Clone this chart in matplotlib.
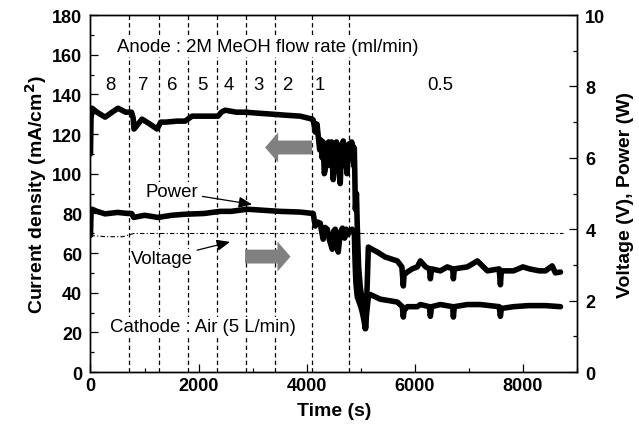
import numpy as np
import matplotlib
matplotlib.use('Agg')
import matplotlib.pyplot as plt
from matplotlib.patches import FancyArrowPatch
from matplotlib.ticker import MultipleLocator

plt.rcParams['font.family'] = ['Liberation Sans', 'DejaVu Sans']

# ---- data ----
# current density (mA/cm2), left axis
cur_t = [0, 10, 30, 120, 270, 400, 510, 650, 760, 790, 805, 850, 953, 1100, 1231, 1300,
         1400, 1600, 1750, 1880, 2100, 2361, 2420, 2491, 2700, 2861, 3100, 3361, 3600,
         3880, 4102, 4120, 4140, 4157, 4190, 4213, 4240, 4260, 4285, 4305, 4325, 4343,
         4365, 4380, 4405, 4435, 4460, 4490, 4510, 4530, 4550, 4565, 4590, 4620, 4645,
         4676, 4700, 4720, 4745, 4780, 4800, 4830, 4850, 4870, 4880, 4890, 4900, 4920,
         4935, 4960, 4990, 5030, 5060, 5090, 5120, 5140, 5200, 5306, 5450, 5676, 5760,
         5787, 5800, 5861, 5950, 6046, 6102, 6200, 6270, 6287, 6310, 6472, 6600, 6700,
         6713, 6730, 6972, 7157, 7342, 7560, 7583, 7600, 7824, 8000, 8120, 8300, 8416,
         8540, 8600, 8694]
cur_v = [110, 128, 133, 131, 128.5, 131, 133, 131, 131, 128, 122.5, 124, 127.5, 125, 122.5, 126,
         126, 126.5, 126.5, 129, 129, 129, 131, 132, 131, 131, 130.5, 130, 129.5,
         129, 127.5, 127, 124, 121, 125, 119, 112, 117, 108, 116, 100, 102,
         114, 110, 116, 104, 116, 97, 112, 106, 116, 112, 102, 95, 114,
         116.5, 104, 113, 100, 115, 108, 116, 114, 104, 113, 99, 82, 90,
         73.6, 53, 43, 35, 28, 22, 45, 63, 62, 60.5, 58, 56, 53,
         43.4, 49, 50.4, 52, 53, 56, 53, 52, 47, 52, 51, 53, 52,
         47, 52, 53, 56, 51, 52, 44, 51, 51, 53, 52, 51, 51,
         53.5, 50, 50.4]

# power (W), right axis
pow_t = [0, 10, 30, 120, 270, 500, 700, 760, 800, 1000, 1250, 1500, 1750, 2100, 2400,
         2600, 2900, 3200, 3500, 3880, 4120, 4157, 4200, 4250, 4280, 4305, 4340, 4380,
         4420, 4472, 4500, 4528, 4555, 4583, 4620, 4660, 4700, 4730, 4760, 4800, 4840,
         4880, 4890, 4898, 4910, 4935, 5000, 5028, 5060, 5083, 5110, 5140, 5176, 5361,
         5676, 5768, 5787, 5800, 5861, 6046, 6102, 6270, 6287, 6310, 6472, 6700, 6713,
         6730, 6972, 7210, 7560, 7583, 7600, 7824, 8100, 8416, 8694]
pow_v = [3.83, 4.44, 4.56, 4.5, 4.43, 4.47, 4.44, 4.44, 4.33, 4.39, 4.33, 4.39, 4.42, 4.44, 4.5,
         4.5, 4.56, 4.53, 4.5, 4.48, 4.44, 4.09, 4.2, 4.17, 3.9, 3.72, 4.05, 4.0,
         3.7, 3.44, 3.95, 4.0, 3.6, 3.36, 3.9, 4.03, 3.75, 4.0, 3.85, 3.94, 4.0,
         3.94, 3.33, 2.94, 2.5, 2.11, 1.83, 1.67, 1.44, 1.21, 1.67, 2.11, 2.17, 2.04,
         1.96, 1.83, 1.54, 1.72, 1.83, 1.83, 1.89, 1.83, 1.56, 1.83, 1.89, 1.83, 1.54,
         1.83, 1.89, 1.89, 1.83, 1.56, 1.78, 1.83, 1.86, 1.86, 1.83]

# voltage (V), right axis
volt_t = [0, 300, 600, 800, 8750]
volt_v = [3.82, 3.79, 3.79, 3.88, 3.88]

# flow-rate change times (s) and labels
change_t = [720, 1260, 1800, 2340, 2880, 3420, 4100, 4780]
flow_lbl = ['8', '7', '6', '5', '4', '3', '2', '1', '0.5']
flow_x = [360, 970, 1510, 2065, 2565, 3100, 3640, 4250, 6470]

fig = plt.figure(figsize=(6.39, 4.35), dpi=100)
ax = fig.add_axes([0.1416, 0.1425, 0.7614, 0.8207])
ax2 = ax.twinx()

for t in change_t:
    ax.axvline(t, color='k', lw=0.9, ls=(0, (3.5, 2.5)), zorder=1)

ax.plot(cur_t, cur_v, color='k', lw=4, solid_joinstyle='round', solid_capstyle='round', zorder=3)
ax2.plot(pow_t, pow_v, color='k', lw=4, solid_joinstyle='round', solid_capstyle='round', zorder=3)
ax2.plot(volt_t, volt_v, color='k', lw=0.8, ls=(0, (4, 2, 1, 2)), zorder=2)

ax.set_xlim(0, 9000)
ax.set_ylim(0, 180)
ax2.set_ylim(0, 10)
ax.xaxis.set_major_locator(MultipleLocator(2000))
ax.xaxis.set_minor_locator(MultipleLocator(1000))
ax.yaxis.set_major_locator(MultipleLocator(20))
ax.yaxis.set_minor_locator(MultipleLocator(10))
ax2.yaxis.set_major_locator(MultipleLocator(2))
ax2.yaxis.set_minor_locator(MultipleLocator(1))

for a in (ax, ax2):
    a.tick_params(which='both', direction='in', labelsize=13, width=0.9)
    a.tick_params(which='major', length=6)
    a.tick_params(which='minor', length=3)
    for lab in a.get_xticklabels() + a.get_yticklabels():
        lab.set_fontweight('bold')
    for s in a.spines.values():
        s.set_linewidth(1.0)
ax.tick_params(axis='y', pad=6)
ax2.tick_params(axis='y', pad=6)

ax.set_xlabel('Time (s)', fontsize=14, fontweight='bold', labelpad=6)
ax.set_ylabel('Current density (mA/cm$^\\mathbf{2}$)', fontsize=14, fontweight='bold', labelpad=2)
ax2.set_ylabel('Voltage (V), Power (W)', fontsize=14, fontweight='bold', labelpad=8)

wbox = dict(facecolor='white', edgecolor='none', pad=1)
fs = 13.4
ax.text(490, 164, 'Anode : 2M MeOH flow rate (ml/min)', fontsize=fs, va='center', ha='left',
        bbox=wbox, zorder=4)
for x, s in zip(flow_x, flow_lbl):
    ax.text(x, 145, s, fontsize=fs, va='center', ha='center', zorder=4)
ax.text(360, 23, 'Cathode : Air (5 L/min)', fontsize=fs, va='center', ha='left',
        bbox=wbox, zorder=4)

ax.annotate('Power', xy=(2990, 84.5), xytext=(1510, 91), fontsize=fs, ha='center', va='center',
            bbox=wbox, zorder=4,
            arrowprops=dict(arrowstyle='-|>,head_length=0.6,head_width=0.25', color='k', lw=0.9,
                            shrinkA=2, shrinkB=0))
ax.annotate('Voltage', xy=(2583, 65.6), xytext=(1324, 57), fontsize=fs, ha='center', va='center',
            bbox=wbox, zorder=4,
            arrowprops=dict(arrowstyle='-|>,head_length=0.6,head_width=0.25', color='k', lw=0.9,
                            shrinkA=2, shrinkB=0))

# gray direction arrows
arr_style = 'simple,head_length=0.47,head_width=1.08,tail_width=0.5'
ax.add_patch(FancyArrowPatch((4100, 113.2), (3230, 113.2), arrowstyle=arr_style, mutation_scale=20,
                             color='#808080', lw=0, shrinkA=0, shrinkB=0, zorder=4))
ax.add_patch(FancyArrowPatch((2860, 58.2), (3700, 58.2), arrowstyle=arr_style, mutation_scale=20,
                             color='#808080', lw=0, shrinkA=0, shrinkB=0, zorder=4))

ax2.set_zorder(ax.get_zorder() + 1)
ax2.patch.set_visible(False)

fig.savefig('out.png', dpi=100)
